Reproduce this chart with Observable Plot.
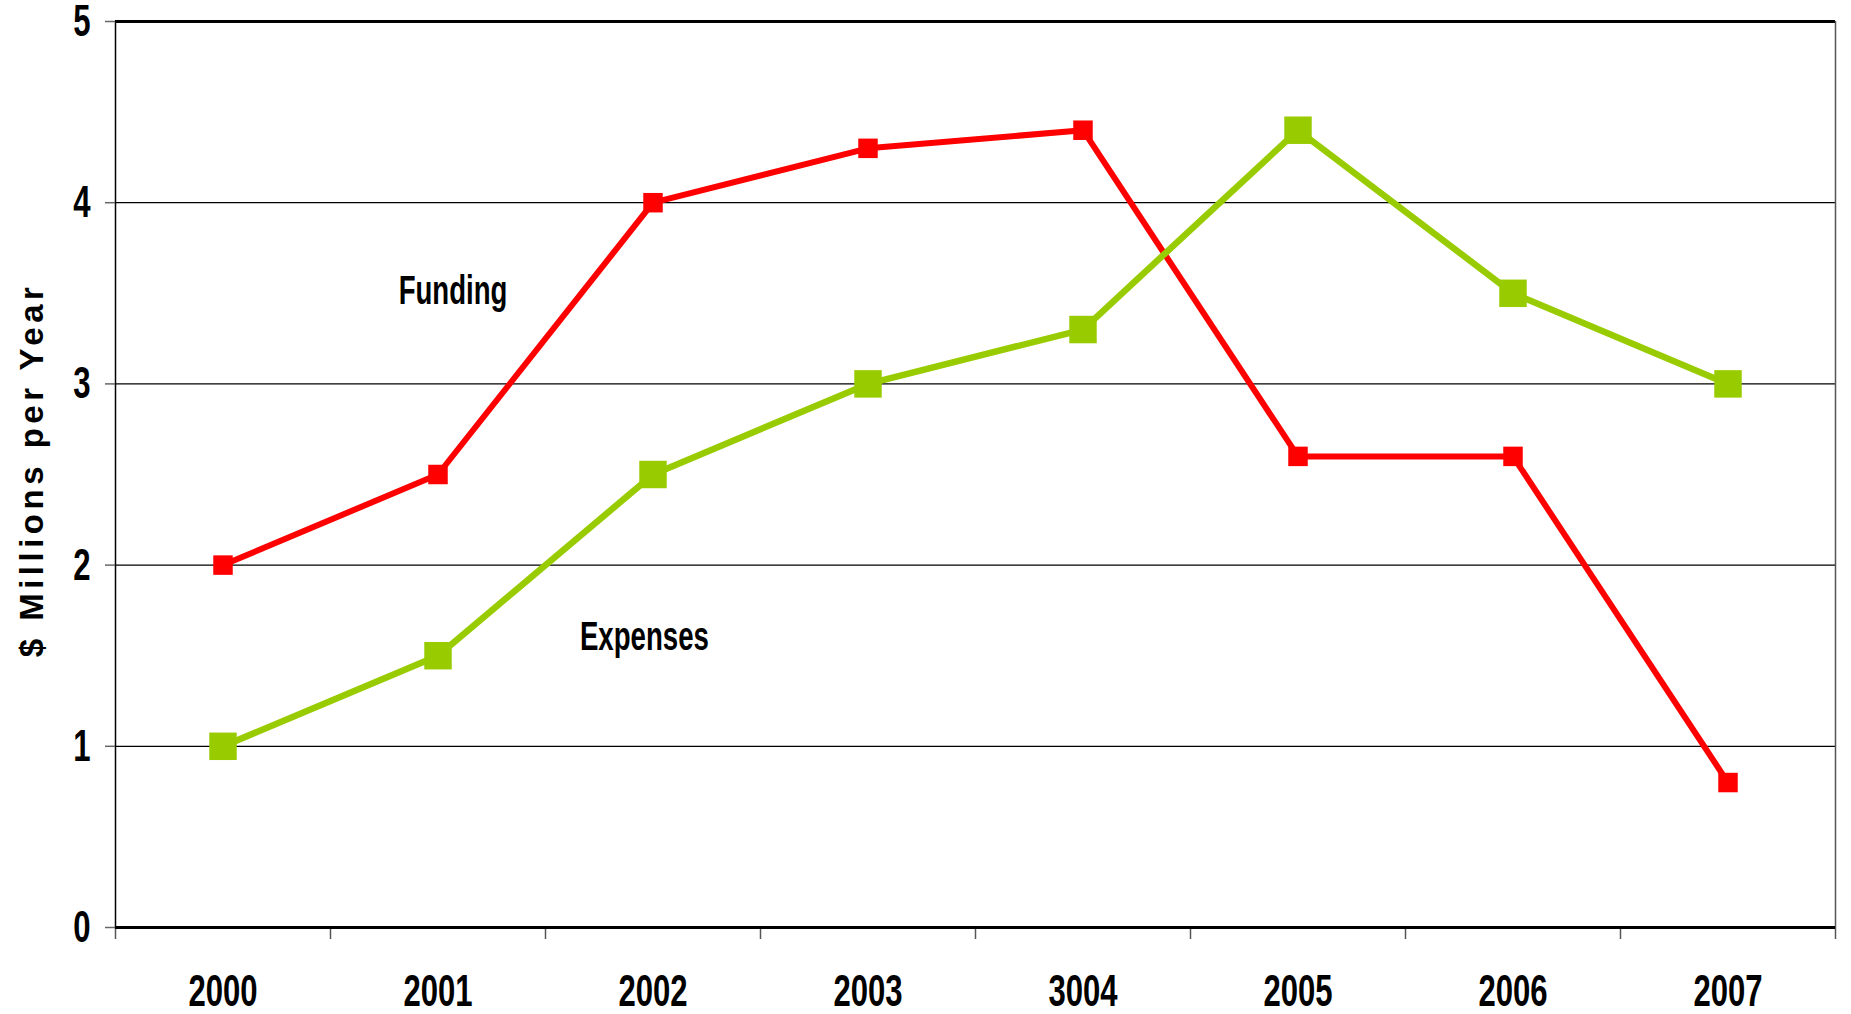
<!DOCTYPE html>
<html>
<head>
<meta charset="utf-8">
<script src="https://cdn.jsdelivr.net/npm/d3@7"></script>
<script src="https://cdn.jsdelivr.net/npm/@observablehq/plot@0.6"></script>
<style>
  html, body { margin: 0; padding: 0; background: #fff; }
  svg text { font-family: "Liberation Sans", Arial, sans-serif; font-weight: bold; }
</style>
</head>
<body>
<div id="chart"></div>
<script>
// Categories (tick labels as printed, including the "3004" typo)
const years = ["2000", "2001", "2002", "2003", "3004", "2005", "2006", "2007"];
// Series values, $ millions per year
const funding  = [2.0, 2.5, 4.0, 4.3, 4.4, 2.6, 2.6, 0.8];
const expenses = [1.0, 1.5, 2.5, 3.0, 3.3, 4.4, 3.5, 3.0];
const yTicks = [0, 1, 2, 3, 4, 5];
// Series annotations (label, category position, value position)
const labels = [
  {text: "Funding",  i: 1.07, v: 3.51},
  {text: "Expenses", i: 1.96, v: 1.60}
];

const idx = years.map((_, i) => i);
const fundingData  = idx.map(i => ({i, v: funding[i]}));
const expensesData = idx.map(i => ({i, v: expenses[i]}));
const boundaries = d3.range(-0.5, years.length, 1);

const chart = Plot.plot({
  width: 1851,
  height: 1014,
  marginLeft: 115,
  marginRight: 16,
  marginTop: 21,
  marginBottom: 87,
  style: {background: "#fff", overflow: "visible"},
  x: {type: "linear", domain: [-0.5, years.length - 0.5], axis: null},
  y: {domain: [0, 5], axis: null},
  marks: [
    // gridlines
    Plot.ruleY([1, 2, 3, 4], {stroke: "#000", strokeWidth: 1.3}),
    // top border at 5
    Plot.ruleY([5], {stroke: "#000", strokeWidth: 3}),
    // left axis and right border
    Plot.ruleX([-0.5], {stroke: "#000", strokeWidth: 1.5}),
    Plot.ruleX([years.length - 0.5], {stroke: "#555", strokeWidth: 1.5}),
    // y tick marks
    Plot.ruleY(yTicks, {x1: -0.5, x2: -0.5, insetLeft: -10, stroke: "#666", strokeWidth: 1.5}),
    // y tick labels
    Plot.text(yTicks, {x: -0.5, y: d => d, text: d => String(d), dx: -25, textAnchor: "end", fontSize: 45, fill: "#000", lineAnchor: "middle", className: "narrow"}),
    // x tick marks at category boundaries
    Plot.ruleX(boundaries, {y1: 0, y2: 0, insetBottom: -12, stroke: "#555", strokeWidth: 1.5}),
    // x tick labels
    Plot.text(idx, {x: d => d, y: 0, text: d => years[d], dy: 64, fontSize: 45, fill: "#000", lineAnchor: "middle", className: "narrow"}),
    // bottom axis
    Plot.ruleY([0], {stroke: "#000", strokeWidth: 3}),
    // Funding series
    Plot.line(fundingData, {x: "i", y: "v", stroke: "#ff0000", strokeWidth: 6}),
    Plot.dot(fundingData, {x: "i", y: "v", symbol: "square", r: 11, fill: "#ff0000", stroke: "none"}),
    // Expenses series
    Plot.line(expensesData, {x: "i", y: "v", stroke: "#99cc00", strokeWidth: 6.5}),
    Plot.dot(expensesData, {x: "i", y: "v", symbol: "square", r: 15.5, fill: "#99cc00", stroke: "none"}),
    // series labels
    Plot.text(labels, {x: "i", y: "v", text: "text", fontSize: 40, fill: "#000", lineAnchor: "middle", className: "narrow"})
  ]
});

// y axis title
const svg = d3.select(chart);
svg.append("text")
  .attr("transform", "translate(34,470) rotate(-90)")
  .attr("text-anchor", "middle")
  .attr("dominant-baseline", "middle")
  .style("font-size", "33px")
  .style("font-weight", "bold")
  .style("letter-spacing", "4.5px")
  .text("$ Millions per Year");

document.getElementById("chart").appendChild(chart);

// condense the narrow-bold labels (Arial Narrow look)
svg.selectAll(".narrow text").each(function () {
  const w = this.getComputedTextLength();
  this.setAttribute("textLength", (w * 0.69).toFixed(1));
  this.setAttribute("lengthAdjust", "spacingAndGlyphs");
});
</script>
</body>
</html>
